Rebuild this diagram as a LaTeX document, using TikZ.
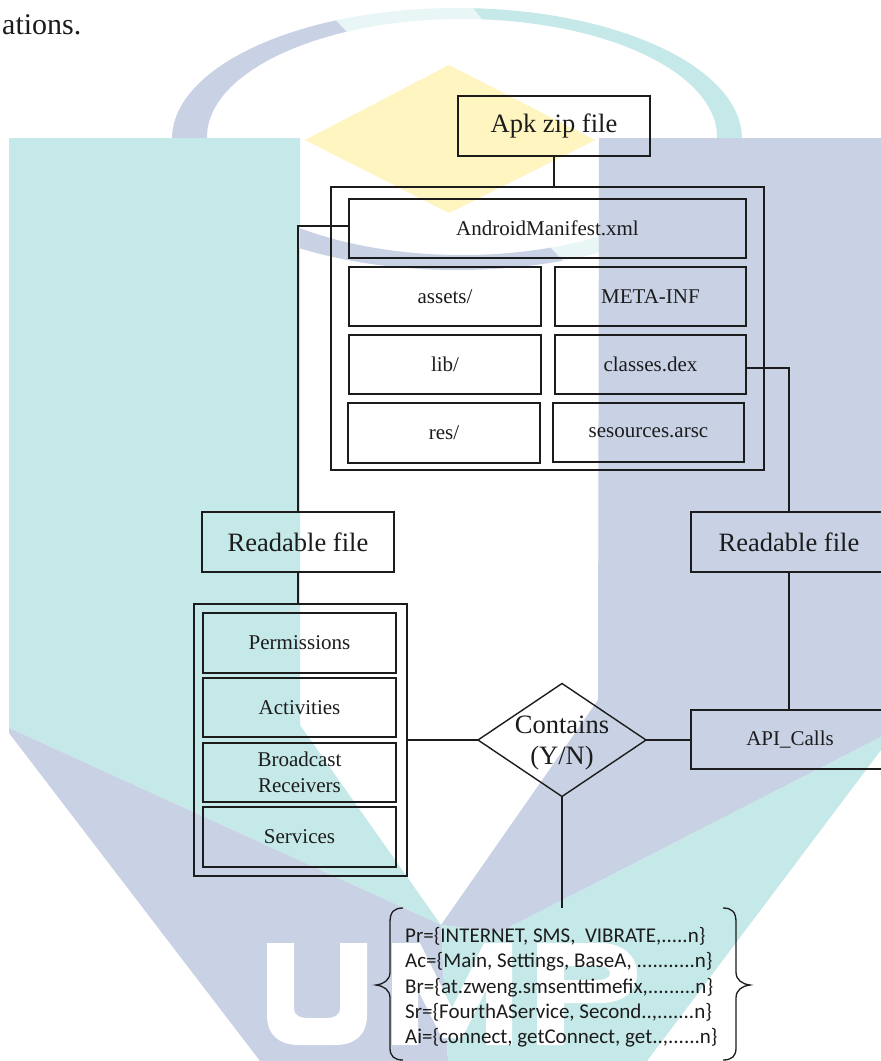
\documentclass[tikz,border=0pt]{standalone}
\usepackage{fontspec}
\setmainfont{Liberation Serif}
\newfontfamily\listfont{Carlito}
\usetikzlibrary{shapes.geometric}

\definecolor{wmteal}{RGB}{197,233,232}
\definecolor{wmblue}{RGB}{201,209,229}
\definecolor{wmyellow}{RGB}{255,245,192}
\definecolor{ink}{RGB}{28,28,28}

\begin{document}
\begin{tikzpicture}[x=1pt, y=-1pt,
  box/.style={draw=ink, line width=1.4pt, rectangle, inner sep=0pt, outer sep=0pt, text=ink},
  big/.style={font=\fontsize{26.5}{31}\selectfont},
  small/.style={font=\fontsize{21}{26}\selectfont},
  wire/.style={draw=ink, line width=1.4pt},
  bracepath/.style={draw=ink, line width=1.3pt},
  listline/.style={anchor=base west, inner sep=0pt, text=ink, font=\listfont\fontsize{21}{25}\selectfont},
  ring/.style={even odd rule}]

\useasboundingbox (0,0) rectangle (881,1061);
\clip (0,0) rectangle (881,1061);
\fill[white] (0,0) rectangle (881,1061);

% ---- faded logo in the background ----
% ring: teal on the upper right, blue on the lower left, pale where they meet
\def\ringpath{(457,139) ellipse [x radius=285pt, y radius=131pt]
              (462,137) ellipse [x radius=255pt, y radius=118pt]}
\begin{scope}
  \clip (420,-60) -- (700,300) -- (1000,300) -- (1000,-60) -- cycle;
  \fill[wmteal, ring] \ringpath;
\end{scope}
\begin{scope}
  \clip (260,-60) -- (600,300) -- (700,300) -- (420,-60) -- cycle;
  \fill[wmteal!40, ring] \ringpath;
\end{scope}
\begin{scope}
  \clip (260,-60) -- (600,300) -- (-100,300) -- (-100,-60) -- cycle;
  \fill[wmblue, ring] \ringpath;
\end{scope}
\fill[wmyellow] (449,65) -- (595,140) -- (449,213) -- (305,140) -- cycle;

% pillars and crossing bands
\fill[wmteal] (9,138) -- (300,138) -- (300,725) -- (441,925) -- (9,728) -- cycle;
\fill[wmblue] (599,138) -- (881,138) -- (881,737) -- (500,932) -- (441,925) -- (598,700) -- cycle;
\fill[wmblue] (9,728) -- (441,925) -- (448,1061) -- (260,1061) -- (9,733) -- cycle;
\fill[wmteal] (881,737) -- (500,932) -- (441,925) -- (448,1061) -- (647,1061) -- (881,750) -- cycle;

% lettering cut out of the bands
\fill[white] (267,943) -- (294,943) -- (294,1008) .. controls (294,1016) and (300,1018) .. (308,1018)
  -- (326,1018) .. controls (334,1018) and (340,1016) .. (340,1008) -- (340,943) -- (367,943)
  -- (367,1015) .. controls (367,1035) and (355,1045) .. (335,1045) -- (299,1045)
  .. controls (279,1045) and (267,1035) .. (267,1015) -- cycle;
\fill[white] (392,943) -- (420,943) -- (452,1008) -- (484,943) -- (512,943) -- (512,1045)
  -- (486,1045) -- (486,990) -- (462,1038) -- (442,1038) -- (418,990) -- (418,1045) -- (392,1045) -- cycle;
\fill[white, even odd rule] (537,943) -- (600,943) .. controls (625,943) and (637,958) .. (637,973)
  .. controls (637,990) and (625,1003) .. (600,1003) -- (564,1003) -- (564,1045) -- (537,1045) -- cycle
  (564,966) -- (598,966) .. controls (606,966) and (610,969) .. (610,973)
  .. controls (610,977) and (606,980) .. (598,980) -- (564,980) -- cycle;

% ---- end of the preceding paragraph ----
\node[anchor=base west, inner sep=0pt, text=ink, font=\fontsize{30}{36}\selectfont] (prevtext) at (2,34) {ations.};

% ---- APK contents ----
\node[box, big, minimum width=192pt, minimum height=60pt] (apk) at (554,126) {Apk zip file};
\node[box, minimum width=433pt, minimum height=283pt] (pkg) at (547.5,328.5) {};
\node[box, small, minimum width=397pt, minimum height=59pt] (manifest) at (547.5,228.5) {AndroidManifest.xml};
\node[box, small, minimum width=192pt, minimum height=59pt] (assets) at (445,296.5) {assets/};
\node[box, small, minimum width=191pt, minimum height=59pt] (metainf) at (650.5,296.5) {META-INF};
\node[box, small, minimum width=192pt, minimum height=59pt] (lib) at (445,364.5) {lib/};
\node[box, small, minimum width=191pt, minimum height=59pt] (classes) at (650.5,364.5) {classes.dex};
\node[box, small, minimum width=192pt, minimum height=60pt] (res) at (444,433) {res/};
\node[box, small, minimum width=191pt, minimum height=59pt] (arsc) at (648.5,432.5) {sesources.arsc};

% ---- readable outputs ----
\node[box, big, minimum width=192pt, minimum height=60pt] (readL) at (298,542) {Readable file};
\node[box, big, minimum width=196pt, minimum height=60pt] (readR) at (789,542) {Readable file};

% ---- manifest components ----
\node[box, minimum width=213pt, minimum height=272pt] (comp) at (300.5,740) {};
\node[box, small, minimum width=193pt, minimum height=60pt] (perm) at (299.5,643) {Permissions};
\node[box, small, minimum width=193pt, minimum height=59pt] (act) at (299.5,707.5) {Activities};
\node[box, small, minimum width=193pt, minimum height=59pt, align=center] (bcast) at (299.5,772.5) {Broadcast\\Receivers};
\node[box, small, minimum width=193pt, minimum height=60pt] (serv) at (299.5,837) {Services};

% ---- decision and API calls ----
\node[diamond, draw=ink, line width=1.4pt, minimum width=168pt, minimum height=113pt, inner sep=0pt, outer sep=0pt] (contains) at (562,740) {};
\node[big, align=center, text=ink, inner sep=0pt] (containsLabel) at (562,743) {Contains\\(Y/N)};
\node[box, small, minimum width=198pt, minimum height=59pt] (api) at (790,739.5) {API\_Calls};

% ---- connectors ----
\draw[wire] (apk.south) -- (apk.south |- pkg.north);
\draw[wire] ([yshift=2.5pt]manifest.west) -| (readL.north);
\draw[wire] (readL.south) -- (readL.south |- comp.north);
\draw[wire] (comp.east) -- (contains.west);
\draw[wire] (contains.east) -- (contains.east -| api.west);
\draw[wire] ([yshift=-3.5pt]classes.east) -| (readR.north);
\draw[wire] (readR.south) -- (readR.south |- api.north);
\coordinate (listtop) at (562,908);
\draw[wire] (contains.south) -- (listtop);

% ---- feature sets ----
\node[listline] (pr) at (405,942) {Pr=\{INTERNET, SMS,\ \ VIBRATE,.....n\}};
\node[listline] (ac) at (405,967) {Ac=\{Main, Settings, BaseA, ...........n\}};
\node[listline] (br) at (405,993) {Br=\{at.zweng.smsenttimefix,.........n\}};
\node[listline] (sr) at (405,1018) {Sr=\{FourthAService, Second..,.......n\}};
\node[listline] (ai) at (405,1043) {Ai=\{connect, getConnect, get..,......n\}};

\draw[bracepath] (403,908) .. controls (394,908) and (390,912) .. (390,922) -- (390,972)
  .. controls (390,980) and (384,984) .. (376,985) .. controls (384,986) and (390,990) .. (390,998)
  -- (390,1048) .. controls (390,1056) and (394,1060) .. (403,1060);
\draw[bracepath] (723,908) .. controls (732,908) and (736,912) .. (736,922) -- (736,972)
  .. controls (736,980) and (742,984) .. (750,985) .. controls (742,986) and (736,990) .. (736,998)
  -- (736,1048) .. controls (736,1056) and (732,1060) .. (723,1060);

\end{tikzpicture}
\end{document}
